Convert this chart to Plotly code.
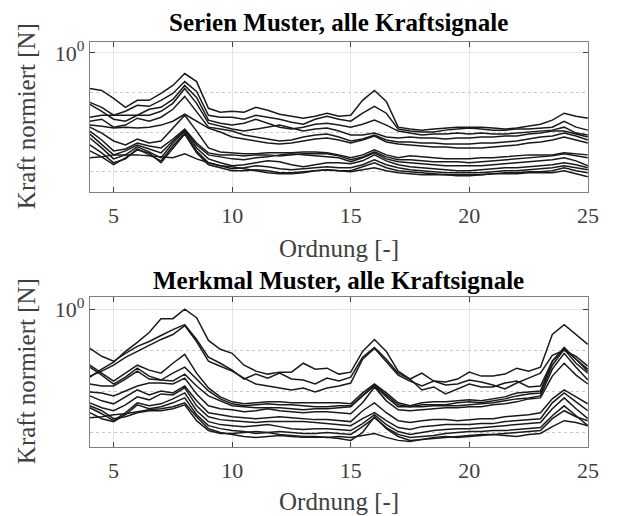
import plotly.graph_objects as go

# Order axis (x) -- half-order resolution
orders = [4 + 0.5 * i for i in range(43)]

# ---- Upper panel: "Serien Muster" (normalised force) ----
S01 = [0.126,0.112,0.0708,0.0422,0.0631,0.0631,0.0944,0.150,0.299,0.188,0.0398,0.0316,0.0335,0.0316,0.0422,0.0355,0.0282,0.0251,0.0224,0.0251,0.0299,0.0251,0.0266,0.0631,0.112,0.0596,0.0133,0.0119,0.0112,0.0119,0.0126,0.0133,0.0133,0.0133,0.0126,0.0119,0.0126,0.0141,0.0158,0.0200,0.0299,0.0251,0.0224]
S02 = [0.0562,0.0422,0.0266,0.0335,0.0473,0.0447,0.0631,0.0944,0.188,0.106,0.0266,0.0237,0.0237,0.0211,0.0266,0.0237,0.0211,0.0178,0.0158,0.0211,0.0251,0.0211,0.0188,0.0299,0.0447,0.0299,0.0119,0.0106,0.0100,0.0100,0.0112,0.0119,0.0126,0.0119,0.0112,0.0112,0.0119,0.0119,0.0126,0.0133,0.0188,0.0133,0.0112]
S03 = [0.0501,0.0335,0.0211,0.0188,0.0266,0.0376,0.0422,0.0668,0.150,0.0750,0.0200,0.0168,0.0150,0.0168,0.0211,0.0168,0.0133,0.0119,0.0133,0.0158,0.0168,0.0150,0.0133,0.0158,0.0200,0.0150,0.0106,0.00944,0.00841,0.00891,0.00891,0.00944,0.00891,0.00944,0.00891,0.00891,0.00944,0.0100,0.0106,0.0112,0.0133,0.00944,0.00841]
S04 = [0.0237,0.0266,0.0266,0.0266,0.0266,0.0266,0.0335,0.0531,0.126,0.0531,0.0168,0.0141,0.0119,0.0106,0.0119,0.0133,0.0150,0.0126,0.0106,0.0119,0.0126,0.0106,0.00841,0.00841,0.00944,0.00750,0.00708,0.00750,0.00708,0.00708,0.00668,0.00708,0.00708,0.00750,0.00750,0.00794,0.00794,0.00891,0.00944,0.0106,0.0106,0.00891,0.00750]
S05 = [0.0188,0.0211,0.0133,0.0150,0.0224,0.0188,0.0237,0.0376,0.0794,0.0335,0.0133,0.0119,0.0106,0.00841,0.00750,0.00668,0.00596,0.00631,0.00750,0.00841,0.00891,0.00750,0.00596,0.00668,0.00841,0.00631,0.00562,0.00562,0.00531,0.00531,0.00501,0.00501,0.00501,0.00531,0.00531,0.00562,0.00596,0.00668,0.00750,0.00794,0.00944,0.00794,0.00631]
S06 = [0.0150,0.0141,0.0126,0.0133,0.0126,0.0133,0.0150,0.0188,0.0282,0.0188,0.0126,0.0100,0.00750,0.00668,0.00596,0.00531,0.00501,0.00531,0.00596,0.00668,0.00708,0.00631,0.00531,0.00631,0.00794,0.00562,0.00501,0.00473,0.00447,0.00422,0.00422,0.00398,0.00398,0.00398,0.00422,0.00447,0.00473,0.00531,0.00562,0.00631,0.00750,0.00631,0.00531]
S07 = [0.0133,0.00944,0.00596,0.00473,0.00668,0.00531,0.00596,0.0126,0.0266,0.0106,0.00398,0.00316,0.00299,0.00282,0.00282,0.00299,0.00299,0.00299,0.00316,0.00316,0.00299,0.00266,0.00224,0.00266,0.00355,0.00266,0.00224,0.00251,0.00237,0.00224,0.00211,0.00211,0.00211,0.00224,0.00224,0.00237,0.00251,0.00266,0.00266,0.00266,0.00299,0.00282,0.00266]
S08 = [0.0106,0.00631,0.00335,0.00376,0.00531,0.00447,0.00398,0.00668,0.0119,0.00531,0.00299,0.00266,0.00266,0.00251,0.00266,0.00266,0.00251,0.00266,0.00282,0.00282,0.00282,0.00251,0.00200,0.00237,0.00316,0.00237,0.00200,0.00200,0.00188,0.00178,0.00178,0.00178,0.00168,0.00178,0.00188,0.00200,0.00211,0.00224,0.00237,0.00251,0.00282,0.00251,0.00224]
S09 = [0.00891,0.00473,0.00266,0.00335,0.00473,0.00376,0.00299,0.00596,0.0112,0.00473,0.00266,0.00237,0.00211,0.00200,0.00224,0.00237,0.00266,0.00282,0.00266,0.00251,0.00237,0.00224,0.00178,0.00224,0.00299,0.00211,0.00178,0.00168,0.00158,0.00150,0.00141,0.00141,0.00141,0.00141,0.00150,0.00158,0.00168,0.00178,0.00188,0.00200,0.00224,0.00188,0.00141]
S10 = [0.00708,0.00398,0.00211,0.00266,0.00422,0.00316,0.00224,0.00531,0.0106,0.00398,0.00211,0.00168,0.00141,0.00150,0.00168,0.00188,0.00178,0.00150,0.00133,0.00150,0.00168,0.00168,0.00158,0.00188,0.00266,0.00188,0.00150,0.00133,0.00126,0.00119,0.00112,0.00106,0.00106,0.00112,0.00119,0.00126,0.00126,0.00133,0.00141,0.00150,0.00168,0.00150,0.00126]
S11 = [0.00473,0.00299,0.00168,0.00211,0.00376,0.00266,0.00188,0.00447,0.00944,0.00335,0.00168,0.00141,0.00119,0.00126,0.00141,0.00133,0.00119,0.00112,0.00119,0.00126,0.00133,0.00126,0.00126,0.00150,0.00200,0.00150,0.00126,0.00112,0.00106,0.00100,0.000944,0.000944,0.000944,0.000944,0.00100,0.00106,0.00106,0.00112,0.00119,0.00126,0.00141,0.00126,0.00112]
S12 = [0.00335,0.00237,0.00150,0.00224,0.00355,0.00299,0.00168,0.00376,0.00891,0.00299,0.00150,0.00126,0.00106,0.00106,0.00112,0.00106,0.000944,0.000944,0.00100,0.00106,0.00112,0.00106,0.00106,0.00133,0.00168,0.00126,0.00106,0.00100,0.000944,0.000891,0.000841,0.000841,0.000841,0.000841,0.000891,0.000944,0.000944,0.00100,0.00100,0.00106,0.00126,0.00106,0.000944]
S13 = [0.00224,0.00237,0.00266,0.00266,0.00266,0.00251,0.00237,0.00224,0.00282,0.00211,0.00168,0.00141,0.00133,0.00119,0.00106,0.000944,0.000891,0.000891,0.000944,0.00106,0.00112,0.00106,0.00100,0.00112,0.00126,0.00106,0.000944,0.000891,0.000841,0.000841,0.000841,0.000794,0.000794,0.000841,0.000891,0.000891,0.000891,0.000944,0.000944,0.000944,0.00106,0.000891,0.000750]

# ---- Lower panel: "Merkmal Muster" (normalised force) ----
M01 = [0.0225,0.0351,0.0516,0.0946,0.156,0.270,0.585,0.585,1.0,0.618,0.174,0.106,0.0847,0.0437,0.0314,0.0266,0.0297,0.0297,0.0488,0.0351,0.0370,0.0266,0.0297,0.0946,0.184,0.0946,0.0314,0.0202,0.0281,0.0181,0.0171,0.0202,0.0297,0.0238,0.0238,0.0266,0.0370,0.0314,0.0391,0.242,0.420,0.242,0.139]
M02 = [0.112,0.0718,0.0545,0.0847,0.125,0.164,0.229,0.319,0.420,0.184,0.0680,0.0488,0.0332,0.0202,0.0266,0.0213,0.0281,0.0202,0.0191,0.0153,0.0213,0.0181,0.0225,0.0680,0.118,0.0609,0.0281,0.0202,0.0110,0.0130,0.00881,0.0116,0.0153,0.0130,0.0130,0.0162,0.0181,0.0130,0.0137,0.0545,0.112,0.0609,0.0314]
M03 = [0.0238,0.0314,0.0437,0.0680,0.0946,0.132,0.184,0.242,0.398,0.164,0.0545,0.0414,0.0314,0.0213,0.0153,0.0137,0.0123,0.0110,0.0123,0.00984,0.0123,0.0137,0.0162,0.0609,0.112,0.0545,0.0252,0.0181,0.0137,0.0181,0.0145,0.0153,0.0191,0.0171,0.0145,0.0116,0.0162,0.0213,0.0281,0.0759,0.100,0.0718,0.0414]
M04 = [0.0437,0.0281,0.0181,0.0281,0.0437,0.0332,0.0281,0.0488,0.0802,0.0281,0.0123,0.00747,0.00566,0.00507,0.00536,0.00566,0.00566,0.00536,0.00536,0.00536,0.00536,0.00536,0.00507,0.00931,0.0153,0.00931,0.00536,0.00454,0.00536,0.00566,0.00566,0.00599,0.00633,0.00599,0.00668,0.00747,0.00931,0.00984,0.0104,0.0545,0.118,0.0609,0.0351]
M05 = [0.0391,0.0252,0.0153,0.0225,0.0370,0.0238,0.0191,0.0281,0.0391,0.0202,0.0104,0.00668,0.00507,0.00454,0.00480,0.00507,0.00480,0.00480,0.00454,0.00430,0.00430,0.00454,0.00454,0.00834,0.0145,0.00834,0.00480,0.00430,0.00480,0.00480,0.00480,0.00536,0.00566,0.00536,0.00599,0.00668,0.00789,0.00881,0.00931,0.0437,0.106,0.0488,0.0281]
M06 = [0.0153,0.0137,0.0137,0.0202,0.0314,0.0202,0.0191,0.0181,0.0266,0.0137,0.00789,0.00599,0.00454,0.00430,0.00407,0.00407,0.00407,0.00385,0.00364,0.00385,0.00385,0.00407,0.00430,0.00789,0.0137,0.00747,0.00430,0.00430,0.00430,0.00454,0.00454,0.00454,0.00480,0.00507,0.00536,0.00599,0.00668,0.00706,0.00789,0.0351,0.0847,0.0391,0.0191]
M07 = [0.00984,0.00931,0.00789,0.0104,0.0137,0.0162,0.0162,0.0153,0.0213,0.00881,0.00454,0.00385,0.00364,0.00326,0.00345,0.00385,0.00345,0.00326,0.00309,0.00326,0.00326,0.00309,0.00292,0.00536,0.0130,0.00599,0.00364,0.00345,0.00364,0.00385,0.00407,0.00407,0.00430,0.00430,0.00480,0.00507,0.00566,0.00668,0.00706,0.0238,0.0488,0.0252,0.0153]
M08 = [0.00789,0.00599,0.00507,0.00747,0.0110,0.00834,0.0104,0.00931,0.0137,0.00599,0.00309,0.00276,0.00247,0.00234,0.00221,0.00234,0.00247,0.00234,0.00221,0.00210,0.00210,0.00198,0.00188,0.00345,0.00536,0.00309,0.00198,0.00178,0.00198,0.00210,0.00210,0.00198,0.00210,0.00221,0.00221,0.00247,0.00261,0.00276,0.00309,0.00668,0.0110,0.00747,0.00507]
M09 = [0.00536,0.00407,0.00345,0.00480,0.00747,0.00633,0.00881,0.00834,0.0123,0.00454,0.00247,0.00210,0.00198,0.00188,0.00178,0.00188,0.00188,0.00188,0.00188,0.00178,0.00168,0.00159,0.00150,0.00221,0.00309,0.00198,0.00135,0.00121,0.00142,0.00150,0.00159,0.00159,0.00159,0.00168,0.00168,0.00188,0.00198,0.00210,0.00221,0.00536,0.00931,0.00566,0.00345]
M10 = [0.00407,0.00292,0.00198,0.00309,0.00536,0.00454,0.00507,0.00668,0.00931,0.00345,0.00188,0.00159,0.00150,0.00142,0.00150,0.00159,0.00142,0.00127,0.00121,0.00127,0.00127,0.00121,0.00114,0.00168,0.00276,0.00159,0.00108,0.00092,0.00102,0.00114,0.00121,0.00127,0.00127,0.00135,0.00142,0.00150,0.00159,0.00168,0.00178,0.00385,0.00706,0.00385,0.00221]
M11 = [0.00309,0.00221,0.00188,0.00276,0.00480,0.00385,0.00430,0.00536,0.00706,0.00276,0.00150,0.00127,0.00114,0.00108,0.00097,0.00102,0.00108,0.00102,0.00097,0.00097,0.00102,0.00097,0.00092,0.00142,0.00234,0.00135,0.00092,0.00078,0.00082,0.00087,0.00097,0.00102,0.00108,0.00108,0.00114,0.00114,0.00121,0.00127,0.00135,0.00261,0.00454,0.00261,0.00150]
M12 = [0.00234,0.00247,0.00276,0.00292,0.00326,0.00364,0.00385,0.00430,0.00536,0.00247,0.00127,0.00102,0.00092,0.00082,0.00078,0.00082,0.00087,0.00082,0.00078,0.00078,0.00078,0.00073,0.00066,0.00102,0.00247,0.00127,0.00082,0.00066,0.00070,0.00073,0.00078,0.00082,0.00087,0.00092,0.00092,0.00097,0.00102,0.00108,0.00114,0.00221,0.00345,0.00247,0.00198]
M13 = [0.00454,0.00345,0.00221,0.00247,0.00309,0.00345,0.00345,0.00385,0.00480,0.00198,0.00114,0.00097,0.00097,0.00102,0.00108,0.00102,0.00092,0.00087,0.00082,0.00082,0.00078,0.00082,0.00078,0.00087,0.00097,0.00078,0.00066,0.00062,0.00070,0.00078,0.00082,0.00078,0.00082,0.00087,0.00092,0.00087,0.00082,0.00092,0.00097,0.00142,0.00198,0.00178,0.00150]

serien = [S01, S02, S03, S04, S05, S06, S07, S08, S09, S10, S11, S12, S13]
merkmal = [M01, M02, M03, M04, M05, M06, M07, M08, M09, M10, M11, M12, M13]
for s in serien + merkmal:
    assert len(s) == len(orders), len(s)

x_ticks = [5, 10, 15, 20, 25]
y_ticks = [1]
y_ticktext = ["10<sup>0</sup>"]
y_minor = [0.1, 0.01, 0.001]

titles = ["Serien Muster, alle Kraftsignale", "Merkmal Muster, alle Kraftsignale"]
xlabel = "Ordnung [-]"
ylabel = "Kraft normiert [N]"

W, H = 620, 516
LINE = "#1a1a1a"
SERIF = "'Liberation Serif', 'Times New Roman', serif"

fig = go.Figure()
for s in serien:
    fig.add_trace(go.Scatter(x=orders, y=s, mode="lines", xaxis="x", yaxis="y",
                             line=dict(color=LINE, width=1.5), showlegend=False,
                             hoverinfo="skip"))
for s in merkmal:
    fig.add_trace(go.Scatter(x=orders, y=s, mode="lines", xaxis="x2", yaxis="y2",
                             line=dict(color=LINE, width=1.5), showlegend=False,
                             hoverinfo="skip"))

xdom = [91.5 / W, 598.5 / W]
ydom_top = [1 - 189 / H, 1 - 38 / H]
ydom_bot = [1 - 446 / H, 1 - 295 / H]

axis_common = dict(showline=True, linecolor="#808080", linewidth=1, mirror="ticks",
                   ticks="inside", ticklen=5, tickcolor="#404040", tickwidth=1,
                   showgrid=True, gridcolor="#e4e4e4", gridwidth=1, zeroline=False,
                   tickfont=dict(family=SERIF, size=22, color="#404040"))

def xax(anchor):
    return dict(axis_common, domain=xdom, range=[4, 25], tickvals=x_ticks,
                anchor=anchor, ticklabelstandoff=4)

def yax(anchor, rng, dom):
    return dict(axis_common, type="log", domain=dom, range=rng, tickvals=y_ticks,
                ticktext=y_ticktext, anchor=anchor,
                minor=dict(tickvals=y_minor, showgrid=True, gridcolor="#c8c8c8",
                           griddash="dot", gridwidth=1, ticks=""))

fig.update_layout(
    width=W, height=H, margin=dict(l=0, r=0, t=0, b=0),
    paper_bgcolor="white", plot_bgcolor="white", showlegend=False,
    xaxis=xax("y"), yaxis=yax("x", [-3.5, 0.28], ydom_top),
    xaxis2=xax("y2"), yaxis2=yax("x2", [-3.33, 0.30], ydom_bot),
)

cx = (xdom[0] + xdom[1]) / 2
ann = []
for t, yc in zip(titles, [19, 279]):
    ann.append(dict(text=t, x=cx, y=1 - yc / H, xref="paper", yref="paper",
                    showarrow=False, xanchor="center", yanchor="middle",
                    font=dict(family=SERIF, size=25, color="black", weight="bold")))
for yc in [246, 501]:
    ann.append(dict(text=xlabel, x=cx, y=1 - yc / H, xref="paper", yref="paper",
                    showarrow=False, xanchor="center", yanchor="middle",
                    font=dict(family=SERIF, size=25, color="#404040")))
for yc in [113.5, 370.5]:
    ann.append(dict(text=ylabel, x=27 / W, y=1 - yc / H, xref="paper", yref="paper",
                    showarrow=False, xanchor="center", yanchor="middle", textangle=-90,
                    font=dict(family=SERIF, size=25, color="#404040")))
fig.update_layout(annotations=ann)

fig.write_html("out.html")
